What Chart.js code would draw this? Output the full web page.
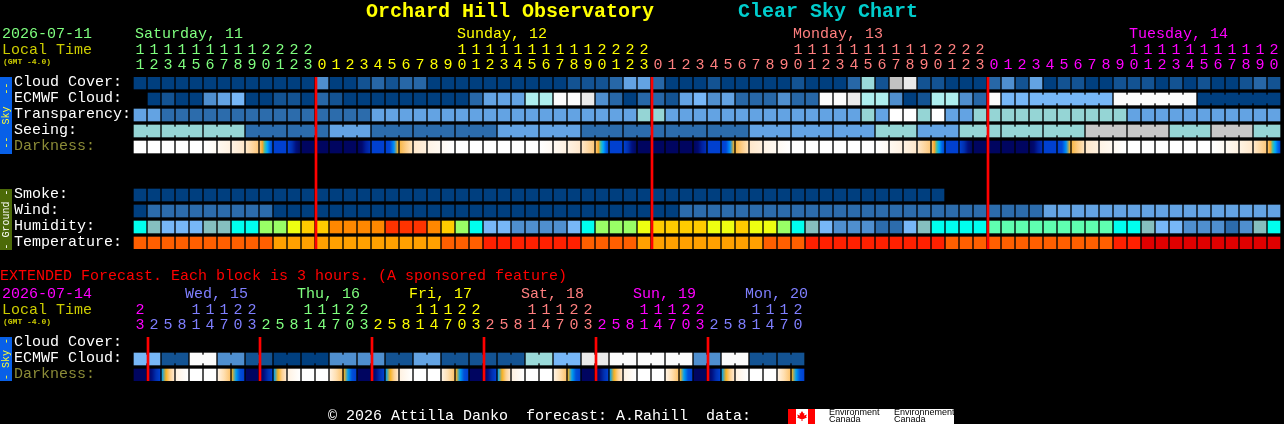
<!DOCTYPE html>
<html><head><meta charset="utf-8">
<script src="https://cdn.jsdelivr.net/npm/chart.js@4"></script>
<style>
html,body{margin:0;padding:0;background:#000;width:1284px;height:424px;overflow:hidden}
canvas{position:absolute;left:0;top:0}
</style></head><body>
<div style="position:absolute;left:0;top:0;width:1284px;height:262px"><canvas id="top"></canvas></div>
<div style="position:absolute;left:0;top:262px;width:1284px;height:162px"><canvas id="ext"></canvas></div>
<script>
const hours = [11,12,13,14,15,16,17,18,19,20,21,22,23,
 0,1,2,3,4,5,6,7,8,9,10,11,12,13,14,15,16,17,18,19,20,21,22,23,
 0,1,2,3,4,5,6,7,8,9,10,11,12,13,14,15,16,17,18,19,20,21,22,23,
 0,1,2,3,4,5,6,7,8,9,10,11,12,13,14,15,16,17,18,19,20];
const extHours = [23,2,5,8,11,14,17,20,23,2,5,8,11,14,17,20,23,2,5,8,11,14,17,20,23,2,5,8,11,14,17,20,23,2,5,8,11,14,17,20,23,2,5,8,11,14,17,20];
const dayColors = ['#7fff7f','#ffff00','#ff7f7f','#ff00ff'];
const extDayColors = ['#ff00ff','#7f7fff','#7fff7f','#ffff00','#ff7f7f','#ff00ff','#7f7fff'];
const dayNames = ['Saturday, 11','Sunday, 12','Monday, 13','Tuesday, 14'];
const dayCols = [0,23,47,71];
const extDayNames = ['Wed, 15','Thu, 16','Fri, 17','Sat, 18','Sun, 19','Mon, 20'];
const extDayCols = [4,12,20,28,36,44];
const rowLabels = ['Cloud Cover:','ECMWF Cloud:','Transparency:','Seeing:','Darkness:','','','Smoke:','Wind:','Humidity:','Temperature:'];
const extRowLabels = ['Cloud Cover:','ECMWF Cloud:','Darkness:'];
const midnightCols = [13,37,61];
const extMidnightCols = [1,9,17,25,33,41];

// cloud, percent covered
const cloudCover = [0,0,0,0,0,0,0,0,0,0,0,0,0,30,0,0,10,20,10,20,20,0,0,0,0,0,0,0,0,0,0,10,10,10,20,40,40,20,0,0,0,10,0,0,0,0,0,10,0,0,0,20,60,10,80,90,10,10,0,0,0,20,30,10,40,0,10,10,0,0,10,10,10,0,10,0,10,0,0,10,20,10];
const ecmwfCloud = [null,0,10,0,0,30,40,50,0,0,10,10,0,20,10,0,0,0,0,0,0,0,0,0,20,40,40,40,70,70,100,100,90,30,20,0,20,20,10,40,50,30,40,20,20,20,30,20,20,100,100,90,70,70,30,0,10,70,70,30,20,100,50,50,50,50,50,50,50,50,100,100,100,100,100,100,0,0,0,0,0,0];
const ecmwfJoined = [64,65,66,67,68,70,71,72,73,74,76,77,78,79,80];
// transparency: 1 above average, 2 average, 3 below average, 4 poor
const transparency = [2,2,1,1,1,1,1,1,1,1,1,1,1,1,1,1,1,2,2,2,2,2,2,2,2,2,2,2,2,2,2,2,2,2,2,2,3,3,2,2,2,2,2,2,2,2,2,2,2,2,2,2,3,2,4,4,3,4,2,2,3,3,3,3,3,3,3,3,3,3,3,2,2,2,2,2,2,2,2,2,2,2];
// seeing: 1 good, 2 average, 3 below average, 4 poor (one value per model block)
const seeingBlocks = [3,3,3,1,1,2,1,1,1,2,2,1,1,1,1,2,2,2,3,2,3,3,3,4,4,3,4,3];
const seeingBlockLengths = [2,3,3,3,3,3,3,3,3,3,3,3,3,3,3,3,3,3,3,3,3,3,3,3,3,3,3,2];
const darkness = ['W','W','W','W','W','f1','f2','f3','f4','S','B','d','N','N','N','N','u','B','m','o','r3','r2','r1','W',
 'W','W','W','W','W','f1','f2','f3','f4','S','B','d','N','N','N','N','u','B','m','o','r3','r2','r1','W',
 'W','W','W','W','W','f1','f2','f3','f4','S','B','d','N','N','N','N','u','B','m','o','r3','r2','r1','W',
 'W','W','W','W','W','f1','f2','f3','f4','S'];
const smoke = [0,0,0,0,0,0,0,0,0,0,0,0,0,0,0,0,0,0,0,0,0,0,0,0,0,0,0,0,0,0,0,0,0,0,0,0,0,0,0,0,0,0,0,0,0,0,0,0,0,0,0,0,0,0,0,0,0,0];
// wind band: 0 calm, 1 light, 2 moderate
const wind = [0,1,1,1,1,1,1,1,1,1,0,0,0,0,0,0,0,0,0,0,0,0,0,0,0,0,0,0,0,0,0,0,0,0,0,0,0,0,0,1,1,1,1,1,1,1,1,1,1,1,1,1,1,1,1,1,1,1,1,1,1,1,1,1,1,2,2,2,2,2,2,2,2,2,2,2,2,2,2,2,2,2];
// relative humidity, percent band
const humidity = [65,60,55,55,55,60,60,65,65,75,75,80,85,85,90,90,90,90,95,95,95,90,85,75,65,55,55,50,50,50,50,55,65,75,75,75,80,85,85,85,85,80,80,85,80,80,75,65,60,55,50,50,50,45,45,55,60,65,65,65,65,70,70,70,70,70,70,70,70,70,65,65,60,55,55,50,50,50,45,50,60,65];
// temperature band, degrees C
const temperature = [19,19,19,19,19,19,19,19,19,19,17,17,17,17,17,17,17,17,17,17,17,17,19,19,19,22,22,22,22,22,22,22,19,19,19,19,17,17,17,17,17,17,17,17,17,19,19,19,22,22,22,22,22,22,22,22,22,22,19,19,19,19,19,19,19,19,19,19,19,19,22,22,25,25,25,25,25,25,25,25,25,25];

const extCloudCover = [];
const extEcmwfCloud = [50,50,10,10,100,100,30,30,10,10,0,0,0,0,30,30,30,30,10,10,40,40,10,10,10,10,10,10,60,60,50,50,90,90,100,100,100,100,100,100,30,30,100,100,10,10,10,10];
const extEcmwfJoined = [0,2,4,6,8,10,12,14,16,18,20,22,24,26,28,30,32,34,36,38,40,42,44,46];
const extDarkness = ['n','r','t','c','W','W','e','v','n','r','t','c','W','W','e','v','n','r','t','c','W','W','e','v','n','r','t','c','W','W','e','v','n','r','t','c','W','W','e','v','n','r','t','c','W','W','e','v'];

const cloudPalette = {0:'#003f7f',10:'#135393',20:'#2767a7',30:'#4f8fcf',40:'#63a3e3',50:'#77b7f7',60:'#9adada',70:'#aeeeee',80:'#c2c2c2',90:'#eaeaea',100:'#fbfbfb'};
const skyPalette = {1:'#2c6cac',2:'#63a3e3',3:'#95d5d5',4:'#c7c7c7'};
const transPalette = {1:'#2c6cac',2:'#63a3e3',3:'#95d5d5',4:'#ffffff'};
const windPalette = {0:'#003f7f',1:'#2c6cac',2:'#63a3e3'};
const humidityPalette = {45:'#2c6cac',50:'#4f8fcf',55:'#77b7f7',60:'#85bfbf',65:'#00ffee',70:'#5fffb0',75:'#99ff66',80:'#eeff11',85:'#ffcc00',90:'#ff8800',95:'#ff3300'};
const tempPalette = {17:'#ffa000',19:'#ff5f00',22:'#ff2000',25:'#e00000'};
const darknessStops = {
 W:['#ffffff','#ffffff'], f1:['#ffffff','#fffaf3'], f2:['#fff9f1','#fff2e2'], f3:['#fff3e3','#ffe8cc'],
 f4:['#ffe7c8','#fdc97e'], S:['#fcc46c','#f6a82a','#3cc0a8','#00a8ff','#0070e8','#0048d8'],
 B:['#0040d0','#0040d0'], d:['#0040d0','#0030b0','#001080','#000a60'], N:['#000560','#000560'],
 u:['#000560','#000a70','#0020a0','#0030b8'], m:['#0040d0','#0048d8','#0090f8','#f5b020'],
 o:['#f8b84a','#fdcd88','#ffe4bc'], r3:['#ffe8cc','#fff0dd'], r2:['#fff4e6','#fff9f1'], r1:['#fffaf3','#ffffff'],
 n:['#000560','#000560'], r:['#000560','#001080','#0030b0','#0040d0'], t:['#00a0f0','#f5b020','#fdd090','#ffe8cc'],
 c:['#fff2e2','#ffffff'], e:['#fff2e2','#ffdfb0','#fcc470'], v:['#f5b020','#00a0f0','#0050d8','#0040d0']
};

const FONT = '"Liberation Mono","DejaVu Sans Mono",monospace';
const H = 0.375;

function expandBlocks(values, lengths){
 const out=[]; values.forEach((v,b)=>{for(let k=0;k<lengths[b];k++) out.push(v);}); return out;
}
function joinsFromLengths(lengths){
 const out=[]; let c=0; lengths.forEach(l=>{for(let k=0;k<l-1;k++) out.push(c+k); c+=l;}); return out;
}
function cellRow(label,row,values,colorOf,len){
 const ds={label,data:[],backgroundColor:[],barThickness:12,grouped:false,xAxisID:'x',yAxisID:'y',borderWidth:0};
 for(let i=0;i<len;i++){
  const v=values[i];
  if(v===null||v===undefined){ds.data.push(null);ds.backgroundColor.push('transparent');}
  else{ds.data.push([row-H,row+H]);ds.backgroundColor.push(colorOf(v));}
 }
 return ds;
}
function connectors(label,row,values,colorOf,joins){
 return {label:label+' join',data:joins.map(i=>({x:i+0.5,y:[row-0.25,row+0.25]})),
  backgroundColor:joins.map(i=>colorOf(values[i])),barThickness:4,grouped:false,xAxisID:'xc',yAxisID:'y',borderWidth:0};
}
function midnightBars(cols,rows){
 return {label:'midnight',order:-1,data:cols.map(c=>({x:c-0.5+1/14,y:[-H,rows-1+H]})),
  backgroundColor:'#ff0000',barThickness:2,grouped:false,xAxisID:'xc',yAxisID:'y',borderWidth:0};
}
function darknessRow(label,row,codes){
 return {label,data:codes.map(()=>[row-H,row+H]),barThickness:12,grouped:false,xAxisID:'x',yAxisID:'y',borderWidth:0,
  backgroundColor:(c)=>{
   const code=codes[c.dataIndex]; if(!code) return 'transparent';
   const s=c.chart.scales.x, x=s.getPixelForValue(c.dataIndex);
   if(!isFinite(x)) return 'transparent';
   const g=c.chart.ctx.createLinearGradient(x-6,0,x+6,0), st=darknessStops[code];
   st.forEach((col,k)=>g.addColorStop(k/(st.length-1),col));
   return g;
  }};
}
function hourLabel(h){const s=String(h);return s.length>1?[s[0],s[1]]:['',s];}
function tickColors(hrs,cols){let d=0;return hrs.map((h,i)=>{if(i>0&&h<hrs[i-1])d++;return cols[d];});}

function sidebar(ctx,x,y0,y1,bg,fg,text){
 ctx.save();
 ctx.fillStyle=bg;ctx.fillRect(x,y0,12,y1-y0);
 ctx.translate(x+6,(y0+y1)/2);ctx.rotate(-Math.PI/2);
 ctx.fillStyle=fg;ctx.font='10px '+FONT;ctx.textAlign='center';ctx.textBaseline='middle';
 ctx.fillText(text,0,0);
 ctx.restore();
}
function txt(ctx,s,x,y,col,font){
 ctx.fillStyle=col;ctx.font=font||('15px '+FONT);ctx.textAlign='left';ctx.textBaseline='middle';ctx.fillText(s,x,y);
}
function mapleLeaf(c,cx,cy){
 const p=[[0,-5],[1.5,-2.5],[2.5,-3],[2,-0.5],[5,-1.5],[4,0.5],[5,1.5],[1.5,3],[0.5,3],[0.5,5],[-0.5,5],[-0.5,3],[-1.5,3],[-5,1.5],[-4,0.5],[-5,-1.5],[-2,-0.5],[-2.5,-3],[-1.5,-2.5]];
 c.fillStyle='#ff0000';c.beginPath();
 p.forEach((q,i)=>i?c.lineTo(cx+q[0],cy+q[1]):c.moveTo(cx+q[0],cy+q[1]));
 c.closePath();c.fill();
}

function makeChart(id,h,opt){
 const cv=document.getElementById(id);
 cv.width=1284;cv.height=h;cv.style.width='1284px';cv.style.height=h+'px';
 const n=opt.hours.length, colors=tickColors(opt.hours,opt.dayColors);
 return new Chart(cv,{
  type:'bar',
  data:{labels:opt.hours.map(String),datasets:opt.datasets},
  options:{
   responsive:false,animation:false,devicePixelRatio:1,
   layout:{padding:{left:14,top:0,right:opt.padRight,bottom:opt.padBottom}},
   plugins:{legend:{display:false},tooltip:{enabled:false},title:{display:false}},
   scales:{
    x:{type:'category',position:'top',offset:true,
     afterFit:s=>{s.height=opt.axisH;},
     border:{display:false},
     grid:{display:false,drawTicks:false},
     ticks:{autoSkip:false,maxRotation:0,minRotation:0,padding:4,
      font:{family:FONT,size:15,lineHeight:1},
      color:c=>colors[c.index],
      callback:(v,i)=>hourLabel(opt.hours[i])}},
    xc:{type:'linear',display:false,position:'top',min:-0.5,max:n-0.5,offset:false},
    y:{type:'linear',reverse:true,min:-H,max:opt.rows.length-1+H,
     afterFit:s=>{s.width=119;},
     afterBuildTicks:s=>{s.ticks=opt.rows.map((_,i)=>({value:i}));},
     border:{display:false},grid:{display:false},
     ticks:{autoSkip:false,crossAlign:'far',padding:0,
      font:{family:FONT,size:15,lineHeight:2/15},
      color:c=>c.tick&&opt.rows[c.tick.value]==='Darkness:'?'#8b8b37':'#ffffff',
      callback:v=>[opt.rows[v],'']}}
   }
  },
  plugins:[{id:'chrome',afterDraw:opt.draw}]
 });
}

const seeing = expandBlocks(seeingBlocks,seeingBlockLengths);
const N = hours.length, EN = extHours.length;

makeChart('top',262,{
 hours,dayColors,rows:rowLabels,axisH:77,padRight:3,padBottom:13,
 datasets:[
  midnightBars(midnightCols,rowLabels.length),
  cellRow(rowLabels[0],0,cloudCover,v=>cloudPalette[v],N),
  cellRow(rowLabels[1],1,ecmwfCloud,v=>cloudPalette[v],N),
  connectors(rowLabels[1],1,ecmwfCloud,v=>cloudPalette[v],ecmwfJoined),
  cellRow(rowLabels[2],2,transparency,v=>transPalette[v],N),
  cellRow(rowLabels[3],3,seeing,v=>skyPalette[v],N),
  connectors(rowLabels[3],3,seeing,v=>skyPalette[v],joinsFromLengths(seeingBlockLengths)),
  darknessRow(rowLabels[4],4,darkness),
  cellRow(rowLabels[7],7,smoke,()=>cloudPalette[0],N),
  cellRow(rowLabels[8],8,wind,v=>windPalette[v],N),
  cellRow(rowLabels[9],9,humidity,v=>humidityPalette[v],N),
  cellRow(rowLabels[10],10,temperature,v=>tempPalette[v],N)
 ],
 draw:(chart)=>{
  const c=chart.ctx;
  txt(c,'Orchard Hill Observatory',366,12,'#ffff00','bold 20px '+FONT);
  txt(c,'Clear Sky Chart',738,12,'#00cccc','bold 20px '+FONT);
  txt(c,'2026-07-11',2,34,'#7fff7f');
  txt(c,'Local Time',2,50,'#cccc00');
  txt(c,'(GMT -4.0)',3,62,'#cccc00','bold 8px '+FONT);
  const s=chart.scales.x;
  dayNames.forEach((t,i)=>txt(c,t,s.getPixelForValue(dayCols[i])-5,34,dayColors[i]));
  sidebar(c,0,77,154,'#0860e8','#ffff33','--  Sky  --');
  sidebar(c,0,189,250,'#4c6a08','#ffffff','- Ground -');
 }
});
makeChart('ext',162,{
 hours:extHours,dayColors:extDayColors,rows:extRowLabels,axisH:75,padRight:479,padBottom:43,
 datasets:[
  midnightBars(extMidnightCols,extRowLabels.length),
  cellRow(extRowLabels[0],0,extCloudCover,v=>cloudPalette[v],EN),
  cellRow(extRowLabels[1],1,extEcmwfCloud,v=>cloudPalette[v],EN),
  connectors(extRowLabels[1],1,extEcmwfCloud,v=>cloudPalette[v],extEcmwfJoined),
  darknessRow(extRowLabels[2],2,extDarkness)
 ],
 draw:(chart)=>{
  const c=chart.ctx;
  txt(c,'EXTENDED Forecast. Each block is 3 hours. (A sponsored feature)',0,14,'#ff0000');
  txt(c,'2026-07-14',2,32,'#ff00ff');
  txt(c,'Local Time',2,48,'#cccc00');
  txt(c,'(GMT -4.0)',3,60,'#cccc00','bold 8px '+FONT);
  const s=chart.scales.x;
  extDayNames.forEach((t,i)=>txt(c,t,s.getPixelForValue(extDayCols[i])-11,32,extDayColors[i+1]));
  sidebar(c,0,75,119,'#0860e8','#ffff33','- Sky -');
  txt(c,'\u00a9 2026 Attilla Danko  forecast: A.Rahill  data:',328,154,'#ffffff');
  c.fillStyle='#ffffff';c.fillRect(788,147,166,15);
  c.fillStyle='#ff0000';c.fillRect(788,147,8,15);c.fillRect(808,147,7,15);
  mapleLeaf(c,802,154);
  const small='9px "Liberation Sans"';
  txt(c,'Environment',829,151,'#000000',small);txt(c,'Canada',829,158,'#000000',small);
  txt(c,'Environnement',894,151,'#000000',small);txt(c,'Canada',894,158,'#000000',small);
 }
});
</script>
</body></html>
